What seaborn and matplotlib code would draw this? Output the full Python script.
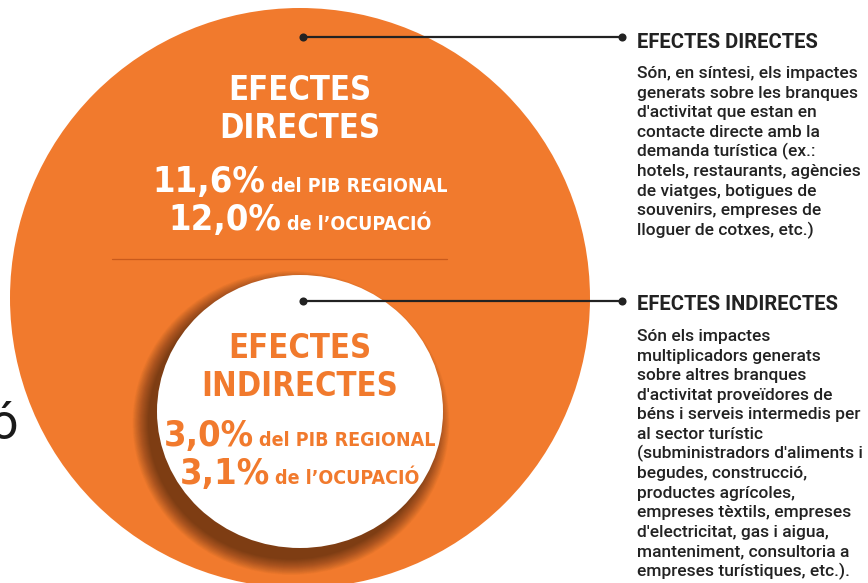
import matplotlib
matplotlib.use("Agg")
import matplotlib.pyplot as plt
import seaborn as sns
import pandas as pd
from matplotlib import font_manager
from matplotlib.patches import Circle, Ellipse

# ----------------------------- #
#  Data
# ----------------------------- #
effect_titles = ["EFECTES\nDIRECTES", "EFECTES\nINDIRECTES"]
side_headers = ["EFECTES DIRECTES", "EFECTES INDIRECTES"]
pib_share = [11.6, 3.0]
job_share = [12.0, 3.1]
pib_label = "del PIB REGIONAL"
job_label = "de l\u2019OCUPACIÓ"
descriptions = [
    ["Són, en síntesi, els impactes",
     "generats sobre les branques",
     "d'activitat que estan en",
     "contacte directe amb la",
     "demanda turística (ex.:",
     "hotels, restaurants, agències",
     "de viatges, botigues de",
     "souvenirs, empreses de",
     "lloguer de cotxes, etc.)"],
    ["Són els impactes",
     "multiplicadors generats",
     "sobre altres branques",
     "d'activitat proveïdores de",
     "béns i serveis intermedis per",
     "al sector turístic",
     "(subministradors d'aliments i",
     "begudes, construcció,",
     "productes agrícoles,",
     "empreses tèxtils, empreses",
     "d'electricitat, gas i aigua,",
     "manteniment, consultoria a",
     "empreses turístiques, etc.)."],
]

ORANGE = "#F17A2D"
DARK = "#222222"

# ----------------------------- #
#  Fonts
# ----------------------------- #
sns.set_theme(style="white")
installed = {f.name for f in font_manager.fontManager.ttflist}
cond_stretch = "normal"
if "Liberation Sans Narrow" in installed:
    cond_font = "Liberation Sans Narrow"
elif any(f.name == "DejaVu Sans" and f.stretch == "condensed" for f in font_manager.fontManager.ttflist):
    cond_font, cond_stretch = "DejaVu Sans", "condensed"
else:
    cond_font = "Roboto"
body_font = "Roboto" if "Roboto" in installed else "DejaVu Sans"
plt.rcParams["font.family"] = [body_font, "DejaVu Sans"]

# ----------------------------- #
#  Canvas (1 data unit = 1 pixel)
# ----------------------------- #
W, H = 868, 583
fig = plt.figure(figsize=(W / 100, H / 100), dpi=100)
ax = fig.add_axes([0, 0, 1, 1])
ax.set_xlim(0, W)
ax.set_ylim(H, 0)
ax.axis("off")

# big orange circle
ax.add_patch(Circle((300, 298), 290, color=ORANGE, lw=0, zorder=1))

# soft shadow falling to the lower left of the inner circle
for k in range(24):
    grow = k * 1.35
    ax.add_patch(Ellipse((291, 423), 286 + grow, 273 + grow,
                         color="black", alpha=0.024, lw=0, zorder=2))
ax.add_patch(Ellipse((300, 411.5), 286, 273, color="white", lw=0, zorder=3))

# divider
ax.plot([112, 447], [259, 259], color="#C95A1C", lw=0.9, zorder=2)

# leader lines + dots
leaders = pd.DataFrame({
    "effect": [0, 0, 1, 1],
    "x": [303, 622, 303, 622],
    "y": [37, 37, 301, 301],
})
sns.lineplot(data=leaders, x="x", y="y", units="effect", estimator=None,
             color=DARK, lw=1.6, ax=ax, zorder=5, sort=False)
sns.scatterplot(data=leaders, x="x", y="y", color=DARK, s=34, lw=0, ax=ax, zorder=6)
ax.set_xlim(0, W)
ax.set_ylim(H, 0)
ax.set_xlabel("")
ax.set_ylabel("")

renderer = fig.canvas.get_renderer()


def value_line(y, number, label, color):
    t1 = ax.text(0, y, number, fontsize=26, fontweight="bold", color=color,
                 family=cond_font, fontstretch=cond_stretch, va="baseline", zorder=7)
    t2 = ax.text(0, y, label, fontsize=14, fontweight="bold", color=color,
                 family=cond_font, fontstretch=cond_stretch, va="baseline", zorder=7)
    w1 = t1.get_window_extent(renderer).width
    w2 = t2.get_window_extent(renderer).width
    gap = 5
    x0 = 300 - (w1 + gap + w2) / 2
    t1.set_x(x0)
    t2.set_x(x0 + w1 + gap)


def fmt(v):
    return f"{v:.1f}".replace(".", ",") + "%"


title_rows = [(100, 138), (358, 396)]
value_rows = [(192, 230), (446, 484)]
colors = ["white", ORANGE]
for i in range(2):
    line1, line2 = effect_titles[i].split("\n")
    for txt, yy in zip([line1, line2], title_rows[i]):
        ax.text(300, yy, txt, fontsize=23.5, fontweight="bold", color=colors[i],
                family=cond_font, fontstretch=cond_stretch,
                ha="center", va="baseline", zorder=7)
    value_line(value_rows[i][0], fmt(pib_share[i]), pib_label, colors[i])
    value_line(value_rows[i][1], fmt(job_share[i]), job_label, colors[i])

# side descriptions
header_y = [48, 310]
body_y0 = [78, 341]
for i in range(2):
    ax.text(637, header_y[i], side_headers[i], fontsize=14.5, fontweight="bold",
            color=DARK, va="baseline", zorder=7)
    for j, line in enumerate(descriptions[i]):
        ax.text(637, body_y0[i] + j * 19.6, line, fontsize=12.5, fontweight="medium",
                color=DARK, va="baseline", zorder=7)

# cut-off letter at the left edge
ax.text(18, 439, "ó", fontsize=36, color="#1a1a1a", ha="right", va="baseline")

fig.savefig("out.png", dpi=100)
